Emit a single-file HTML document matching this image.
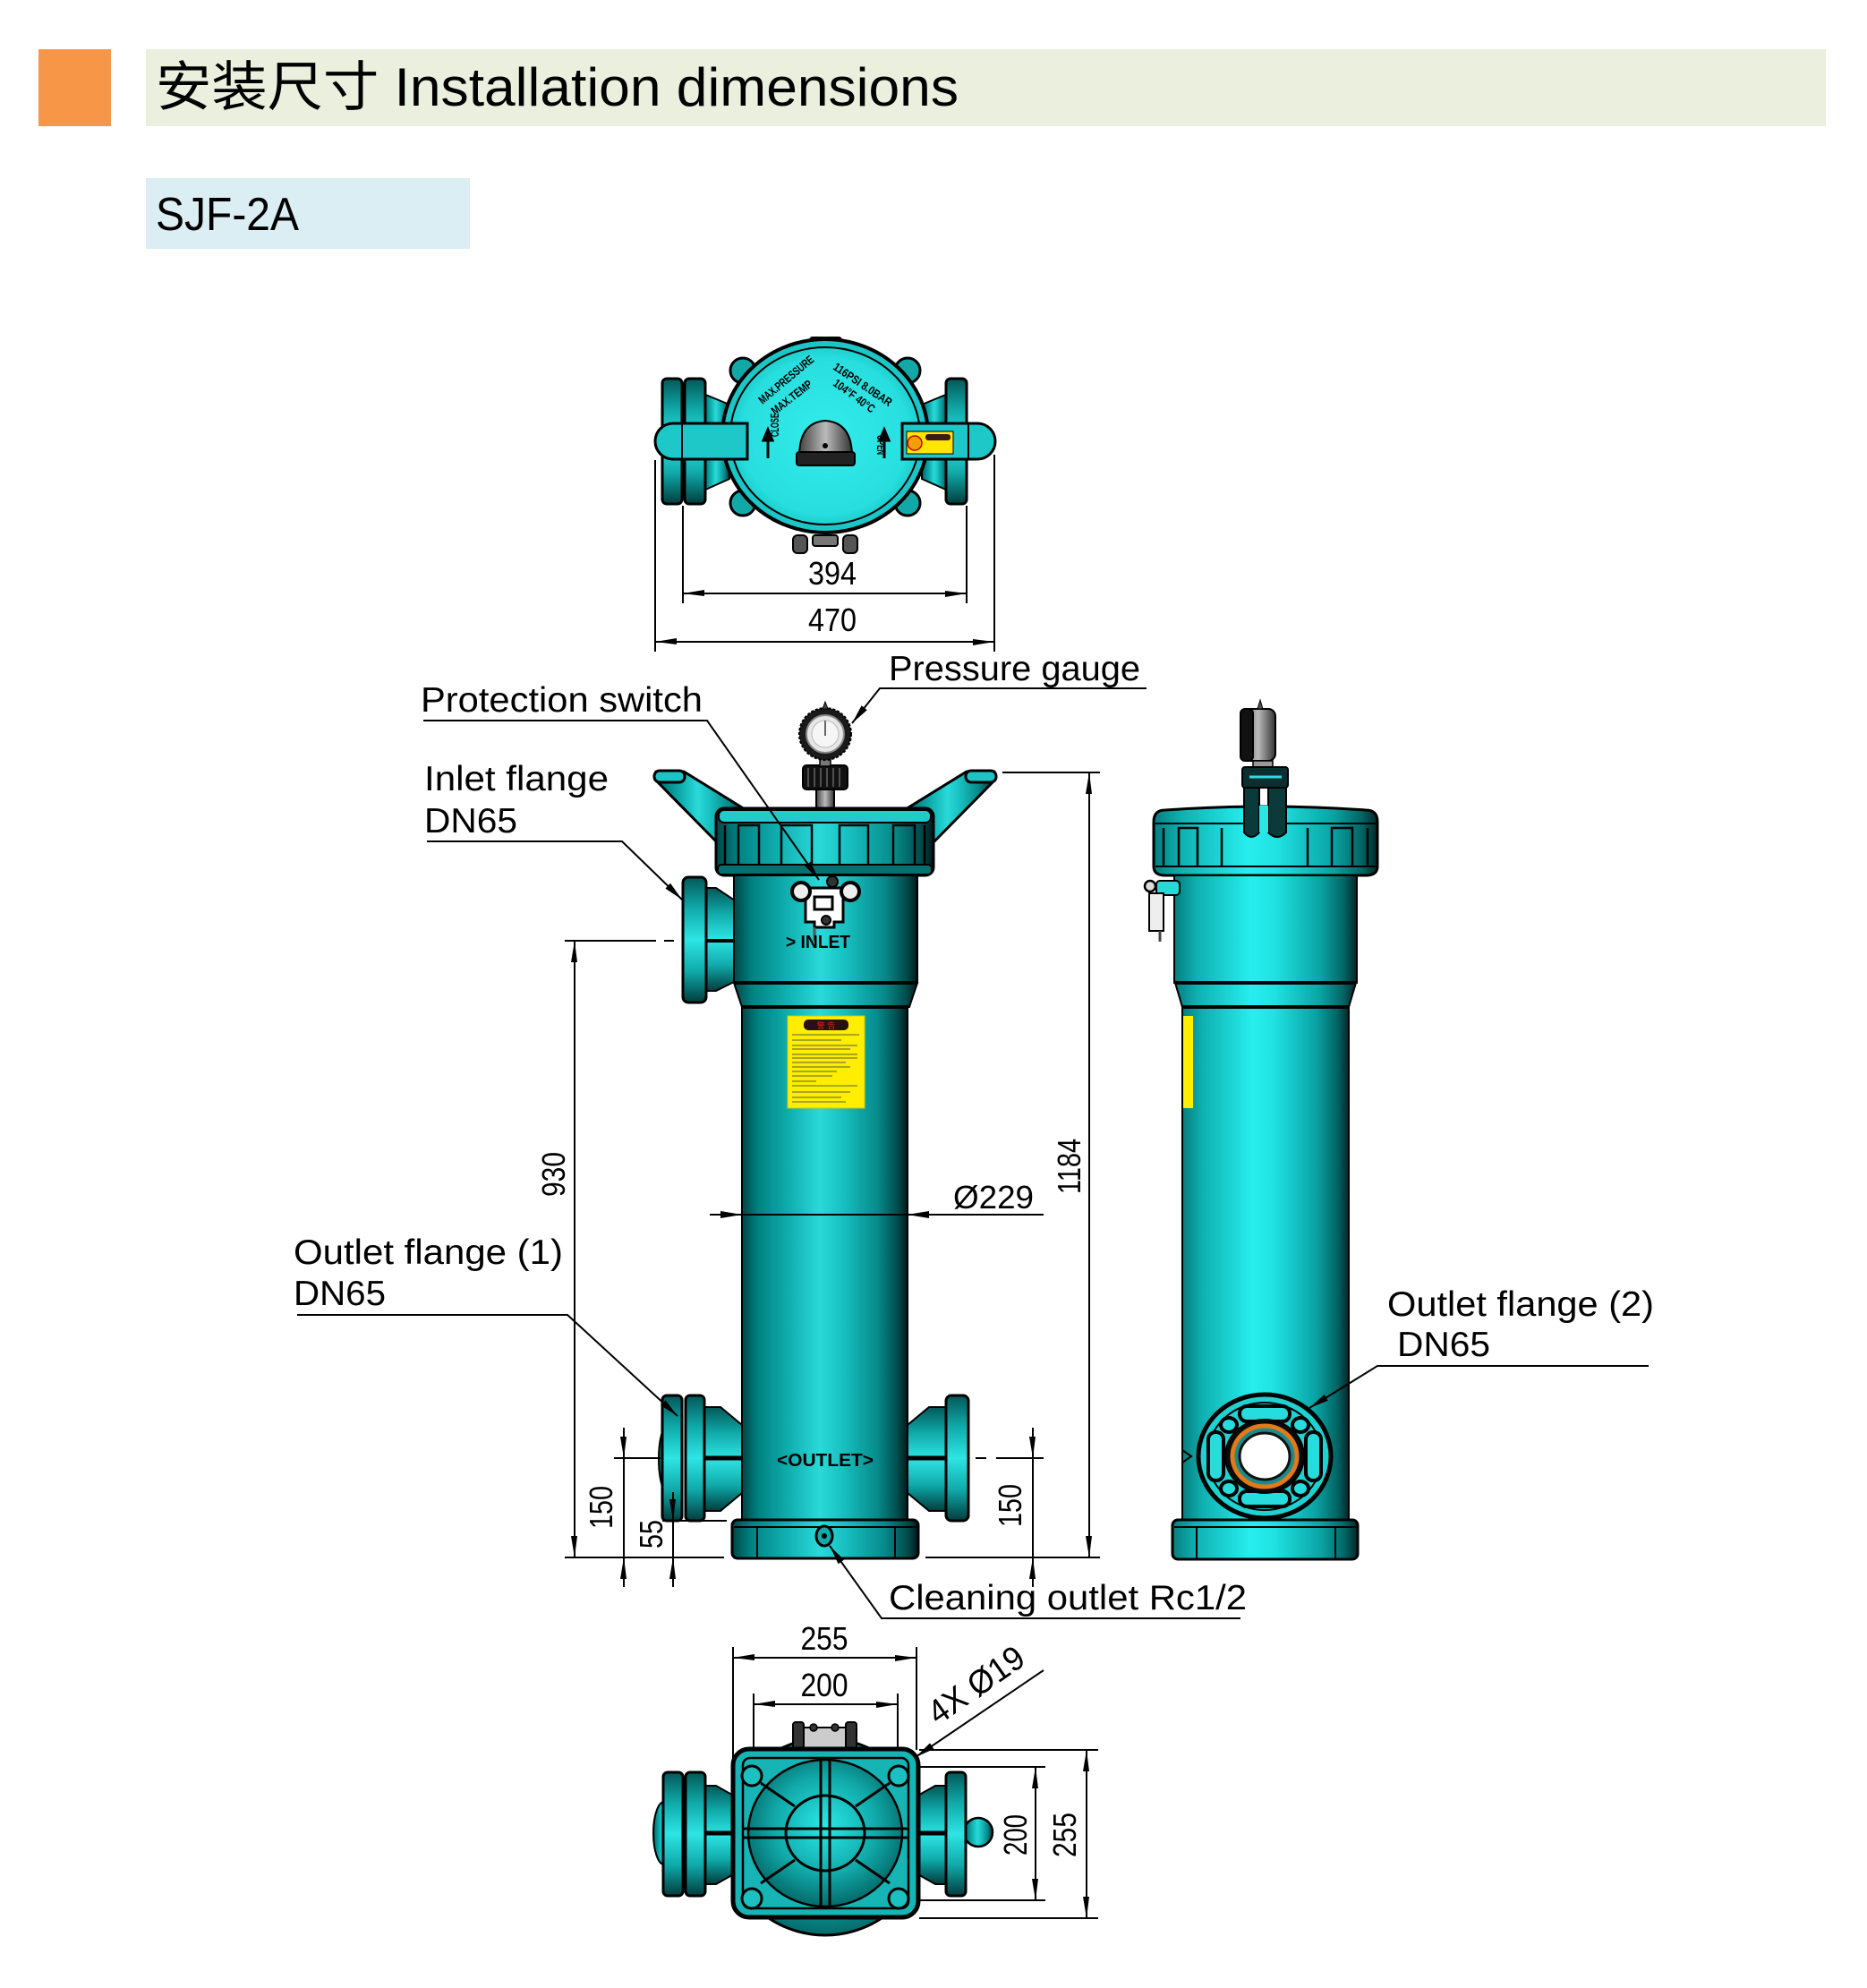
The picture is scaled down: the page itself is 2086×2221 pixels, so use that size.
<!DOCTYPE html>
<html><head><meta charset="utf-8">
<style>
html,body{margin:0;padding:0;background:#fff;}
svg{display:block;}
text{font-family:"Liberation Sans","Noto Sans CJK SC",sans-serif;fill:#000;}
</style></head>
<body>
<svg width="2086" height="2221" viewBox="0 0 2086 2221" xmlns="http://www.w3.org/2000/svg">
<defs>
 <linearGradient id="cA" x1="0" x2="1" y1="0" y2="0">
  <stop offset="0" stop-color="#004545"/>
  <stop offset="0.1" stop-color="#008282"/>
  <stop offset="0.3" stop-color="#12b2b2"/>
  <stop offset="0.47" stop-color="#2ad9d9"/>
  <stop offset="0.6" stop-color="#19c2c2"/>
  <stop offset="0.82" stop-color="#068a8a"/>
  <stop offset="0.94" stop-color="#024c4c"/>
  <stop offset="1" stop-color="#001a1a"/>
 </linearGradient>
 <linearGradient id="cB" x1="0" x2="1" y1="0" y2="0">
  <stop offset="0" stop-color="#067c7c"/>
  <stop offset="0.12" stop-color="#0fb0b0"/>
  <stop offset="0.42" stop-color="#27eeee"/>
  <stop offset="0.55" stop-color="#20e2e2"/>
  <stop offset="0.8" stop-color="#0aa4a4"/>
  <stop offset="0.93" stop-color="#036464"/>
  <stop offset="1" stop-color="#002828"/>
 </linearGradient>
 <linearGradient id="vA" x1="0" x2="0" y1="0" y2="1">
  <stop offset="0" stop-color="#035858"/>
  <stop offset="0.25" stop-color="#10aaaa"/>
  <stop offset="0.5" stop-color="#2ee4e4"/>
  <stop offset="0.75" stop-color="#10aaaa"/>
  <stop offset="1" stop-color="#023c3c"/>
 </linearGradient>
 <radialGradient id="rT" cx="0.5" cy="0.5" r="0.55">
  <stop offset="0" stop-color="#34ecec"/>
  <stop offset="0.8" stop-color="#28dede"/>
  <stop offset="1" stop-color="#18c4c4"/>
 </radialGradient>
 <radialGradient id="rB" cx="0.5" cy="0.45" r="0.55">
  <stop offset="0" stop-color="#2ae8e8"/>
  <stop offset="0.6" stop-color="#11aaaa"/>
  <stop offset="1" stop-color="#046a6a"/>
 </radialGradient>
 <linearGradient id="gG" x1="0" x2="1" y1="0" y2="0">
  <stop offset="0" stop-color="#444"/>
  <stop offset="0.5" stop-color="#bbb"/>
  <stop offset="1" stop-color="#333"/>
 </linearGradient>
</defs>

<!-- HEADER -->
<rect x="43" y="55" width="81" height="86" fill="#F79646"/>
<rect x="163" y="55" width="1877" height="86" fill="#EBEFDE"/>
<text x="174" y="118" font-size="60" textLength="897" lengthAdjust="spacingAndGlyphs">安装尺寸 Installation dimensions</text>
<rect x="163" y="199" width="362" height="79" fill="#DAEEF3"/>
<text x="174" y="257" font-size="52" textLength="160" lengthAdjust="spacingAndGlyphs">SJF-2A</text>

<!-- ================= TOP VIEW ================= -->
<g stroke="#000">
 <!-- necks -->
 <polygon points="786,440 815,452 815,535 786,548" fill="url(#cA)" stroke-width="2"/>
 <polygon points="1059,440 1030,452 1030,535 1059,548" fill="url(#cA)" stroke-width="2"/>
 <!-- flange plates -->
 <rect x="740" y="423" width="22" height="140" rx="5" fill="url(#vA)" stroke-width="3"/>
 <rect x="765" y="423" width="23" height="140" rx="5" fill="url(#vA)" stroke-width="3"/>
 <rect x="1057" y="423" width="23" height="140" rx="5" fill="url(#vA)" stroke-width="3"/>
 <!-- lobes -->
 <circle cx="830" cy="414" r="14" fill="#12a8a8" stroke-width="3"/>
 <circle cx="1014" cy="414" r="14" fill="#12a8a8" stroke-width="3"/>
 <circle cx="830" cy="562" r="14" fill="#12a8a8" stroke-width="3"/>
 <circle cx="1014" cy="562" r="14" fill="#12a8a8" stroke-width="3"/>
 <rect x="905" y="377" width="35" height="10" rx="3" fill="#22cccc" stroke-width="2"/>
 <!-- bottom bolts -->
 <rect x="886" y="598" width="16" height="20" rx="5" fill="#555" stroke-width="2"/>
 <rect x="942" y="598" width="16" height="20" rx="5" fill="#555" stroke-width="2"/>
 <rect x="908" y="598" width="28" height="12" rx="3" fill="#777" stroke-width="2"/>
 <!-- main -->
 <ellipse cx="922" cy="487" rx="115" ry="108" fill="#1cc6c6" stroke-width="4"/>
 <ellipse cx="922" cy="487" rx="106" ry="99" fill="url(#rT)" stroke-width="2"/>
 <!-- bars -->
 <path d="M752,473 H835 V513 H752 A20,20 0 0 1 752,473 Z" fill="#1fc8c8" stroke-width="3"/>
 <line x1="762" y1="474" x2="762" y2="512" stroke-width="2"/>
 <path d="M1008,473 H1092 A20,20 0 0 1 1092,513 H1008 Z" fill="#1fc8c8" stroke-width="3"/>
 <line x1="1082" y1="474" x2="1082" y2="512" stroke-width="2"/>
 <rect x="1013" y="482" width="52" height="25" fill="#ffe600" stroke-width="1"/>
 <rect x="1034" y="485" width="28" height="7" rx="3" fill="#3a1a1a" stroke="none"/>
 <circle cx="1022" cy="495" r="8" fill="#f2a000" stroke="#c00" stroke-width="1.5"/>
 <!-- center knob -->
 <path d="M893,510 Q893,472 922,470 Q952,472 952,510 Z" fill="url(#gG)" stroke-width="2"/>
 <rect x="890" y="505" width="65" height="15" rx="3" fill="#222" stroke-width="2"/>
 <circle cx="922" cy="498" r="3" fill="#000" stroke="none"/>
 <!-- open / close arrows -->
 <path d="M858,512 V486 M853,492 L858,480 L863,492 Z" fill="#000" stroke-width="3"/>
 <path d="M988,512 V486 M983,492 L988,480 L993,492 Z" fill="#000" stroke-width="3"/>
</g>
<g font-weight="bold" font-size="13">
 <text transform="translate(870,488) rotate(-90)" textLength="26" lengthAdjust="spacingAndGlyphs">CLOSE</text>
 <text transform="translate(980,486) rotate(90)" textLength="22" lengthAdjust="spacingAndGlyphs">OPEN</text>
 <text transform="translate(852,452) rotate(-40)" textLength="76" lengthAdjust="spacingAndGlyphs">MAX.PRESSURE</text>
 <text transform="translate(866,464) rotate(-38)" textLength="54" lengthAdjust="spacingAndGlyphs">MAX.TEMP</text>
 <text transform="translate(930,412) rotate(34)" textLength="76" lengthAdjust="spacingAndGlyphs">116PSI 8.0BAR</text>
 <text transform="translate(930,430) rotate(36)" textLength="54" lengthAdjust="spacingAndGlyphs">104°F 40°C</text>
</g>

<!-- top view dims -->
<g stroke="#000" stroke-width="2" fill="none">
 <line x1="763" y1="565" x2="763" y2="674"/>
 <line x1="1080" y1="565" x2="1080" y2="674"/>
 <line x1="763" y1="663" x2="1080" y2="663"/>
 <line x1="732" y1="514" x2="732" y2="728"/>
 <line x1="1111" y1="508" x2="1111" y2="728"/>
 <line x1="732" y1="717" x2="1111" y2="717"/>
</g>
<g fill="#000">
 <polygon points="763,663 787,659 787,666"/>
 <polygon points="1080,663 1056,660 1056,667"/>
 <polygon points="732,717 756,713 756,720"/>
 <polygon points="1111,717 1087,714 1087,721"/>
</g>
<text x="930" y="653" font-size="36" text-anchor="middle" textLength="54" lengthAdjust="spacingAndGlyphs">394</text>
<text x="930" y="705" font-size="36" text-anchor="middle" textLength="54" lengthAdjust="spacingAndGlyphs">470</text>

<!-- ================= FRONT VIEW ================= -->
<g stroke="#000">
 <!-- wings -->
 <polygon points="733,862 764,862 832,904 800,940 735,874" fill="url(#cA)" stroke-width="3" stroke-linejoin="round"/>
 <polygon points="1111,862 1080,862 1012,904 1044,940 1109,874" fill="url(#cA)" stroke-width="3" stroke-linejoin="round"/>
 <rect x="731" y="861" width="34" height="13" rx="6" fill="#1cc4c4" stroke-width="3"/>
 <rect x="1079" y="861" width="34" height="13" rx="6" fill="#1cc4c4" stroke-width="3"/>
 <!-- gauge -->
 <rect x="912" y="880" width="20" height="25" fill="url(#gG)" stroke-width="2"/>
 <rect x="897" y="855" width="50" height="27" rx="4" fill="#111" stroke-width="2"/>
 <g stroke="#666" stroke-width="1.5">
  <line x1="903" y1="858" x2="903" y2="879"/><line x1="910" y1="858" x2="910" y2="879"/>
  <line x1="917" y1="858" x2="917" y2="879"/><line x1="924" y1="858" x2="924" y2="879"/>
  <line x1="931" y1="858" x2="931" y2="879"/><line x1="938" y1="858" x2="938" y2="879"/>
 </g>
 <rect x="916" y="846" width="12" height="10" fill="#777" stroke-width="1.5"/>
 <circle cx="922" cy="820" r="29" fill="#1a1a1a" stroke-width="2" stroke-dasharray="3 2"/>
 <circle cx="922" cy="820" r="21" fill="#e6e6e6" stroke="#888" stroke-width="2"/>
 <circle cx="922" cy="820" r="15" fill="#f6f6f6" stroke="#bbb" stroke-width="1"/>
 <line x1="922" y1="822" x2="922" y2="805" stroke="#666" stroke-width="2"/>
 <polygon points="919,792 922,784 925,792" fill="#444" stroke-width="1"/>
 <!-- cap -->
 <rect x="800" y="903" width="243" height="75" rx="9" fill="url(#cA)" stroke-width="3"/>
 <rect x="803" y="905" width="237" height="14" rx="6" fill="#23caca" stroke-width="2"/>
 <rect x="802" y="966" width="239" height="11" rx="4" fill="#067070" stroke-width="2"/>
 <g stroke-width="2.5" fill="none">
  <path d="M810,966 V922 M825,966 V922 H848 V966 M873,966 V922 H907 V966 M938,966 V922 H970 V966 M998,966 V922 H1022 V966 M1033,966 V922"/>
 </g>
 <!-- inlet flange -->
 <polygon points="788,992 800,992 830,1012 830,1092 800,1107 788,1107" fill="url(#vA)" stroke-width="2"/>
 <line x1="790" y1="1051" x2="830" y2="1051" stroke-width="4"/>
 <rect x="763" y="980" width="26" height="140" rx="6" fill="url(#vA)" stroke-width="3"/>
 <!-- head -->
 <rect x="820" y="978" width="205" height="120" fill="url(#cA)" stroke-width="2"/>
 <polygon points="820,1098 1025,1098 1016,1125 829,1125" fill="url(#cA)" stroke-width="2"/>
 <line x1="820" y1="1098" x2="1025" y2="1098" stroke-width="4"/>
 <!-- tube -->
 <rect x="829" y="1125" width="185" height="573" fill="url(#cA)" stroke-width="2"/>
 <line x1="829" y1="1125" x2="1014" y2="1125" stroke-width="4"/>
 <!-- switch -->
 <path d="M900,992 H942 V1030 H932 V1036 H910 V1030 H900 Z" fill="#fff" stroke-width="3"/>
 <rect x="910" y="1002" width="20" height="14" fill="#fff" stroke-width="3"/>
 <circle cx="895" cy="996" r="10" fill="#eee" stroke-width="4"/>
 <circle cx="950" cy="996" r="10" fill="#eee" stroke-width="4"/>
 <circle cx="930" cy="985" r="6" fill="#333" stroke-width="2"/>
 <circle cx="923" cy="1028" r="5" fill="#333" stroke-width="2"/>
 <line x1="910" y1="1036" x2="910" y2="1052" stroke="#555" stroke-width="3"/>
 <!-- label -->
 <rect x="880" y="1135" width="86" height="103" fill="#ffee00" stroke="#cc0" stroke-width="1"/>
 <rect x="898" y="1139" width="50" height="12" rx="5" fill="#2a1010" stroke="none"/>
 <g stroke="#7a7a30" stroke-width="1.2">
  <line x1="885" y1="1156" x2="960" y2="1156"/><line x1="885" y1="1162" x2="940" y2="1162"/>
  <line x1="885" y1="1168" x2="958" y2="1168"/><line x1="885" y1="1172" x2="950" y2="1172"/>
  <line x1="885" y1="1178" x2="958" y2="1178"/><line x1="885" y1="1182" x2="958" y2="1182"/>
  <line x1="885" y1="1187" x2="945" y2="1187"/><line x1="885" y1="1192" x2="950" y2="1192"/>
  <line x1="885" y1="1197" x2="935" y2="1197"/><line x1="885" y1="1202" x2="930" y2="1202"/>
  <line x1="885" y1="1208" x2="912" y2="1208"/><line x1="885" y1="1213" x2="958" y2="1213"/>
  <line x1="885" y1="1220" x2="950" y2="1220"/><line x1="885" y1="1226" x2="940" y2="1226"/>
  <line x1="885" y1="1231" x2="945" y2="1231"/>
 </g>
 <!-- outlet flanges -->
 <ellipse cx="746" cy="1630" rx="10" ry="38" fill="url(#cA)" stroke-width="2"/>
 <polygon points="786,1572 805,1572 829,1592 829,1668 805,1688 786,1688" fill="url(#vA)" stroke-width="2"/>
 <line x1="786" y1="1629" x2="829" y2="1629" stroke-width="5"/>
 <rect x="740" y="1559" width="22" height="140" rx="5" fill="url(#vA)" stroke-width="3"/>
 <rect x="766" y="1559" width="21" height="140" rx="5" fill="url(#vA)" stroke-width="3"/>
 <polygon points="1057,1572 1038,1572 1014,1592 1014,1668 1038,1688 1057,1688" fill="url(#vA)" stroke-width="2"/>
 <line x1="1014" y1="1629" x2="1057" y2="1629" stroke-width="5"/>
 <rect x="1057" y="1559" width="25" height="140" rx="6" fill="url(#vA)" stroke-width="3"/>
 <!-- base -->
 <rect x="818" y="1698" width="208" height="43" rx="6" fill="url(#cA)" stroke-width="3"/>
 <line x1="820" y1="1706" x2="1024" y2="1706" stroke-width="2"/>
 <line x1="846" y1="1706" x2="846" y2="1740" stroke-width="2"/>
 <line x1="1000" y1="1706" x2="1000" y2="1740" stroke-width="2"/>
 <ellipse cx="921" cy="1716" rx="9" ry="11" fill="#1aa" stroke-width="3"/>
 <circle cx="921" cy="1716" r="3" fill="#000" stroke="none"/>
</g>
<text x="914" y="1059" font-size="20" font-weight="bold" text-anchor="middle" textLength="72" lengthAdjust="spacingAndGlyphs">&gt; INLET</text>
<text x="922" y="1638" font-size="20" font-weight="bold" text-anchor="middle" textLength="108" lengthAdjust="spacingAndGlyphs">&lt;OUTLET&gt;</text>
<text x="923" y="1149" font-size="9" text-anchor="middle" style="fill:#e02020">警 告</text>

<!-- ================= SIDE VIEW ================= -->
<g stroke="#000">
 <!-- gauge -->
 <rect x="1386" y="792" width="39" height="58" rx="8" fill="url(#gG)" stroke-width="2"/>
 <rect x="1386" y="792" width="14" height="58" rx="5" fill="#111" stroke-width="2"/>
 <polygon points="1405,792 1408,782 1411,792" fill="#555" stroke-width="1"/>
 <rect x="1400" y="850" width="22" height="8" fill="#999" stroke-width="1.5"/>
 <!-- bracket -->
 <rect x="1388" y="857" width="51" height="23" rx="3" fill="#0b2e2e" stroke-width="2"/>
 <line x1="1396" y1="868" x2="1432" y2="868" stroke="#2cdede" stroke-width="3"/>
 <!-- cap -->
 <path d="M1289,918 Q1289,905 1302,905 Q1414,897 1526,905 Q1539,905 1539,918 V968 Q1539,978 1526,978 H1302 Q1289,978 1289,968 Z" fill="url(#cB)" stroke-width="3"/>
 <line x1="1291" y1="920" x2="1537" y2="920" stroke-width="2"/>
 <line x1="1291" y1="968" x2="1537" y2="968" stroke-width="2"/>
 <path d="M1300,968 V925 M1317,968 V925 H1338 V968 M1365,968 V925 M1461,968 V925 M1488,968 V925 H1511 V968 M1528,968 V925" fill="none" stroke-width="2.5"/>
 <!-- legs -->
 <path d="M1390,880 V930 Q1398,940 1407,930 V880 Z" fill="#0b3a3a" stroke-width="2"/>
 <path d="M1417,880 V930 Q1427,940 1437,930 V880 Z" fill="#0b3a3a" stroke-width="2"/>
 <rect x="1407" y="900" width="10" height="30" fill="#2ae6e6" stroke="none"/>
 <!-- upper body -->
 <rect x="1312" y="978" width="204" height="120" fill="url(#cB)" stroke-width="2"/>
 <polygon points="1313,1098 1515,1098 1507,1125 1321,1125" fill="url(#cB)" stroke-width="2"/>
 <line x1="1313" y1="1098" x2="1515" y2="1098" stroke-width="4"/>
 <!-- tube -->
 <rect x="1321" y="1125" width="186" height="573" fill="url(#cB)" stroke-width="2"/>
 <line x1="1321" y1="1125" x2="1507" y2="1125" stroke-width="4"/>
 <rect x="1322" y="1135" width="11" height="103" fill="#ffee00" stroke="none"/>
 <!-- side switch -->
 <rect x="1292" y="984" width="26" height="16" rx="4" fill="#2ad8d8" stroke-width="2"/>
 <circle cx="1285" cy="990" r="6" fill="#ddd" stroke-width="2.5"/>
 <rect x="1284" y="998" width="16" height="42" fill="#eee" stroke-width="2"/>
 <line x1="1296" y1="1040" x2="1296" y2="1052" stroke="#444" stroke-width="3"/>
 <!-- base -->
 <rect x="1310" y="1698" width="207" height="44" rx="6" fill="url(#cB)" stroke-width="3"/>
 <line x1="1312" y1="1706" x2="1515" y2="1706" stroke-width="2"/>
 <line x1="1337" y1="1706" x2="1337" y2="1741" stroke-width="2"/>
 <line x1="1492" y1="1706" x2="1492" y2="1741" stroke-width="2"/>
 <!-- flange (2) -->
 <ellipse cx="1413" cy="1627" rx="74" ry="69" fill="#1fd2d2" stroke-width="5"/>
 <ellipse cx="1413" cy="1627" rx="64" ry="60" fill="none" stroke-width="2"/>
 <rect x="1385" y="1571" width="56" height="17" rx="8" fill="#26dcdc" stroke-width="4"/>
 <rect x="1385" y="1666" width="56" height="17" rx="8" fill="#26dcdc" stroke-width="4"/>
 <rect x="1350" y="1600" width="17" height="54" rx="8" fill="#26dcdc" stroke-width="4"/>
 <rect x="1459" y="1600" width="17" height="54" rx="8" fill="#26dcdc" stroke-width="4"/>
 <ellipse cx="1373" cy="1592" rx="9" ry="8" fill="#26dcdc" stroke-width="4"/>
 <ellipse cx="1453" cy="1592" rx="9" ry="8" fill="#26dcdc" stroke-width="4"/>
 <ellipse cx="1373" cy="1663" rx="9" ry="8" fill="#26dcdc" stroke-width="4"/>
 <ellipse cx="1453" cy="1663" rx="9" ry="8" fill="#26dcdc" stroke-width="4"/>
 <ellipse cx="1413" cy="1627" rx="44" ry="41" fill="#0a0a0a" stroke-width="2"/>
 <ellipse cx="1413" cy="1627" rx="36" ry="34" fill="#1a8a8a" stroke="#e07a1a" stroke-width="5"/>
 <ellipse cx="1413" cy="1627" rx="28" ry="26" fill="#fff" stroke="#111" stroke-width="3"/>
 <path d="M1321,1620 L1331,1627 L1321,1634" fill="none" stroke-width="2"/>
</g>

<!-- ================= BOTTOM VIEW ================= -->
<g stroke="#000">
 <ellipse cx="922" cy="2052" rx="112" ry="110" fill="url(#rB)" stroke-width="3"/>
 <rect x="888" y="1930" width="69" height="24" fill="#ccc" stroke-width="2"/>
 <rect x="886" y="1924" width="12" height="30" rx="3" fill="#333" stroke-width="2"/>
 <rect x="945" y="1924" width="12" height="30" rx="3" fill="#333" stroke-width="2"/>
 <circle cx="909" cy="1930" r="4" fill="#333" stroke-width="1.5"/>
 <circle cx="933" cy="1930" r="4" fill="#333" stroke-width="1.5"/>
 <!-- left flange -->
 <ellipse cx="742" cy="2048" rx="12" ry="35" fill="url(#cA)" stroke-width="2"/>
 <polygon points="788,1995 800,1995 830,2012 830,2088 800,2105 788,2105" fill="url(#vA)" stroke-width="2"/>
 <line x1="788" y1="2048" x2="830" y2="2048" stroke-width="5"/>
 <rect x="741" y="1980" width="22" height="138" rx="5" fill="url(#vA)" stroke-width="3"/>
 <rect x="766" y="1980" width="22" height="138" rx="5" fill="url(#vA)" stroke-width="3"/>
 <!-- right flange -->
 <circle cx="1093" cy="2047" r="16" fill="url(#cA)" stroke-width="2.5"/>
 <polygon points="1057,1995 1045,1995 1015,2012 1015,2088 1045,2105 1057,2105" fill="url(#vA)" stroke-width="2"/>
 <line x1="1015" y1="2048" x2="1057" y2="2048" stroke-width="5"/>
 <rect x="1057" y="1980" width="22" height="138" rx="5" fill="url(#vA)" stroke-width="3"/>
 <!-- square flange -->
 <rect x="819" y="1954" width="207" height="188" rx="18" fill="#16b4b4" stroke-width="5"/>
 <rect x="830" y="1964" width="185" height="168" rx="8" fill="none" stroke-width="2.5"/>
 <ellipse cx="922" cy="2048" rx="86" ry="82" fill="url(#rB)" stroke-width="2.5"/>
 <g stroke-width="3" fill="none">
  <line x1="850" y1="1992" x2="888" y2="2018"/>
  <line x1="994" y1="1992" x2="956" y2="2018"/>
  <line x1="850" y1="2104" x2="888" y2="2078"/>
  <line x1="994" y1="2104" x2="956" y2="2078"/>
  <line x1="917" y1="1964" x2="917" y2="2132"/>
  <line x1="927" y1="1964" x2="927" y2="2132"/>
  <line x1="830" y1="2043" x2="1015" y2="2043"/>
  <line x1="830" y1="2053" x2="1015" y2="2053"/>
 </g>
 <ellipse cx="922" cy="2048" rx="44" ry="42" fill="none" stroke-width="3"/>
 <circle cx="840" cy="1984" r="11" fill="#1cc0c0" stroke-width="3"/>
 <circle cx="1004" cy="1984" r="11" fill="#1cc0c0" stroke-width="3"/>
 <circle cx="840" cy="2121" r="11" fill="#1cc0c0" stroke-width="3"/>
 <circle cx="1004" cy="2121" r="11" fill="#1cc0c0" stroke-width="3"/>
</g>

<!-- ================= DIMENSIONS / LEADERS ================= -->
<g stroke="#000" stroke-width="2" fill="none">
 <line x1="631" y1="1051" x2="733" y2="1051"/>
 <line x1="742" y1="1051" x2="753" y2="1051"/>
 <line x1="642" y1="1051" x2="642" y2="1741"/>
 <line x1="631" y1="1740" x2="809" y2="1740"/>
 <line x1="1120" y1="863" x2="1229" y2="863"/>
 <line x1="1217" y1="863" x2="1217" y2="1741"/>
 <line x1="1034" y1="1740" x2="1229" y2="1740"/>
 <line x1="686" y1="1629" x2="738" y2="1629"/>
 <line x1="697" y1="1595" x2="697" y2="1773"/>
 <line x1="740" y1="1699" x2="812" y2="1699"/>
 <line x1="752" y1="1667" x2="752" y2="1773"/>
 <line x1="1090" y1="1629" x2="1102" y2="1629"/>
 <line x1="1113" y1="1629" x2="1166" y2="1629"/>
 <line x1="1154" y1="1595" x2="1154" y2="1773"/>
 <line x1="793" y1="1357" x2="1166" y2="1357"/>
 <line x1="819" y1="1840" x2="819" y2="1967"/>
 <line x1="1024" y1="1840" x2="1024" y2="1955"/>
 <line x1="819" y1="1852" x2="1024" y2="1852"/>
 <line x1="842" y1="1892" x2="842" y2="1953"/>
 <line x1="1003" y1="1892" x2="1003" y2="1953"/>
 <line x1="842" y1="1904" x2="1003" y2="1904"/>
 <line x1="1027" y1="1974" x2="1168" y2="1974"/>
 <line x1="1027" y1="2123" x2="1168" y2="2123"/>
 <line x1="1157" y1="1974" x2="1157" y2="2123"/>
 <line x1="1027" y1="1955" x2="1227" y2="1955"/>
 <line x1="1027" y1="2143" x2="1227" y2="2143"/>
 <line x1="1214" y1="1955" x2="1214" y2="2143"/>
 <polyline points="1281,769 983,769 952,808"/>
 <polyline points="473,805 790,805 915,983"/>
 <polyline points="477,940 695,940 762,1005"/>
 <polyline points="332,1469 634,1469 757,1582"/>
 <polyline points="1842,1526 1539,1526 1463,1573"/>
 <polyline points="1386,1808 985,1808 927,1727"/>
 <line x1="1166" y1="1866" x2="1023" y2="1963"/>
</g>
<g fill="#000">
 <polygon points="642,1051 638,1075 645,1075"/>
 <polygon points="642,1740 638,1716 645,1716"/>
 <polygon points="1217,863 1213,887 1220,887"/>
 <polygon points="1217,1740 1213,1716 1220,1716"/>
 <polygon points="697,1629 693,1605 700,1605"/>
 <polygon points="697,1740 693,1764 700,1764"/>
 <polygon points="752,1699 748,1675 755,1675"/>
 <polygon points="752,1740 748,1764 755,1764"/>
 <polygon points="1154,1629 1150,1605 1157,1605"/>
 <polygon points="1154,1740 1150,1764 1157,1764"/>
 <polygon points="829,1357 805,1353 805,1361"/>
 <polygon points="1014,1357 1038,1353 1038,1361"/>
 <polygon points="819,1852 843,1848 843,1855"/>
 <polygon points="1024,1852 1000,1849 1000,1856"/>
 <polygon points="842,1904 866,1900 866,1907"/>
 <polygon points="1003,1904 979,1901 979,1908"/>
 <polygon points="1157,1974 1153,1998 1160,1998"/>
 <polygon points="1157,2123 1153,2099 1160,2099"/>
 <polygon points="1214,1955 1210,1979 1217,1979"/>
 <polygon points="1214,2143 1210,2119 1217,2119"/>
 <polygon points="952,808 962.6,788.3 968.8,793.3"/>
 <polygon points="915,983 899.1,967.3 905.7,962.7"/>
 <polygon points="762,1005 743.4,992.6 749,986.8"/>
 <polygon points="757,1582 738.1,1570.1 743.5,1564.2"/>
 <polygon points="1463,1573 1479.6,1558 1483.8,1564.8"/>
 <polygon points="927,1727 943,1742.6 936.6,1747.2"/>
 <polygon points="1023,1963 1039,1947.4 1043.4,1954"/>
</g>

<!-- dimension numbers -->
<g font-size="36">
 <text transform="translate(618,1312) rotate(-90)" x="0" y="13" text-anchor="middle" textLength="50" lengthAdjust="spacingAndGlyphs">930</text>
 <text transform="translate(1194,1303) rotate(-90)" x="0" y="13" text-anchor="middle" textLength="62" lengthAdjust="spacingAndGlyphs">1184</text>
 <text transform="translate(671,1684) rotate(-90)" x="0" y="13" text-anchor="middle" textLength="48" lengthAdjust="spacingAndGlyphs">150</text>
 <text transform="translate(727,1714) rotate(-90)" x="0" y="13" text-anchor="middle" textLength="32" lengthAdjust="spacingAndGlyphs">55</text>
 <text transform="translate(1128,1682) rotate(-90)" x="0" y="13" text-anchor="middle" textLength="48" lengthAdjust="spacingAndGlyphs">150</text>
 <text x="1065" y="1350" textLength="90" lengthAdjust="spacingAndGlyphs">Ø229</text>
 <text x="921" y="1843" text-anchor="middle" textLength="53" lengthAdjust="spacingAndGlyphs">255</text>
 <text x="921" y="1895" text-anchor="middle" textLength="53" lengthAdjust="spacingAndGlyphs">200</text>
 <text transform="translate(1134,2050) rotate(-90)" x="0" y="13" text-anchor="middle" textLength="46" lengthAdjust="spacingAndGlyphs">200</text>
 <text transform="translate(1189,2050) rotate(-90)" x="0" y="13" text-anchor="middle" textLength="50" lengthAdjust="spacingAndGlyphs">255</text>
 <text transform="translate(1048,1928) rotate(-35)" x="0" y="0" font-size="38" textLength="122" lengthAdjust="spacingAndGlyphs">4X Ø19</text>
</g>

<!-- labels -->
<g font-size="39">
 <text x="993" y="760" textLength="281" lengthAdjust="spacingAndGlyphs">Pressure gauge</text>
 <text x="470" y="795" textLength="315" lengthAdjust="spacingAndGlyphs">Protection switch</text>
 <text x="474" y="883" textLength="206" lengthAdjust="spacingAndGlyphs">Inlet flange</text>
 <text x="474" y="930" textLength="104" lengthAdjust="spacingAndGlyphs">DN65</text>
 <text x="328" y="1412" textLength="301" lengthAdjust="spacingAndGlyphs">Outlet flange (1)</text>
 <text x="328" y="1458" textLength="103" lengthAdjust="spacingAndGlyphs">DN65</text>
 <text x="1550" y="1470" textLength="298" lengthAdjust="spacingAndGlyphs">Outlet flange (2)</text>
 <text x="1561" y="1515" textLength="104" lengthAdjust="spacingAndGlyphs">DN65</text>
 <text x="993" y="1798" textLength="400" lengthAdjust="spacingAndGlyphs">Cleaning outlet Rc1/2</text>
</g>
</svg>
</body></html>
